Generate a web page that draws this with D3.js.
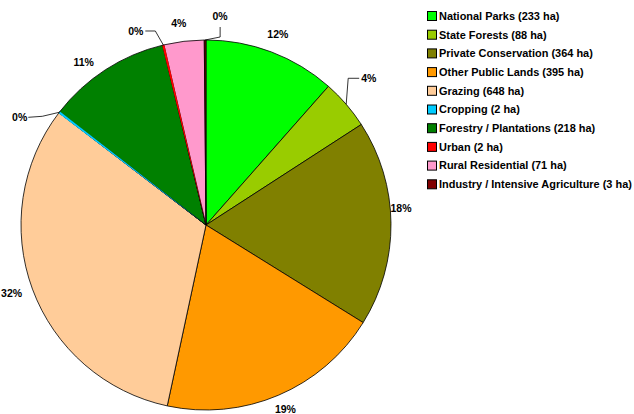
<!DOCTYPE html>
<html>
<head>
<meta charset="utf-8">
<script src="https://cdn.jsdelivr.net/npm/d3@7"></script>
<style>
  html, body { margin: 0; padding: 0; background: #fff; }
  svg { display: block; font-family: "Liberation Sans", Arial, sans-serif; font-weight: bold; }
</style>
</head>
<body>
<svg id="chart" width="634" height="414"></svg>
<script>
// Land use by tenure, hectares
const categories = [
  "National Parks", "State Forests", "Private Conservation", "Other Public Lands",
  "Grazing", "Cropping", "Forestry / Plantations", "Urban",
  "Rural Residential", "Industry / Intensive Agriculture"
];
const hectares = [233, 88, 364, 395, 648, 2, 218, 2, 71, 3];
const percentLabels = ["12%", "4%", "18%", "19%", "32%", "0%", "11%", "0%", "4%", "0%"];
const colours = [
  "#00ff00", "#99cc00", "#808000", "#ff9900", "#ffcc99",
  "#00ccff", "#008000", "#ff0000", "#ff99cc", "#800000"
];

const svg = d3.select("#chart");
const cx = 206, cy = 225, radius = 185;

const pie = d3.pie().sort(null).value(d => d.value);
const data = categories.map((c, i) => ({ name: c, value: hectares[i], label: percentLabels[i], colour: colours[i], i }));
const arcs = pie(data);
const arcGen = d3.arc().innerRadius(0).outerRadius(radius);

const g = svg.append("g").attr("transform", `translate(${cx},${cy})`);

g.selectAll("path.slice")
  .data(arcs)
  .enter().append("path")
  .attr("class", "slice")
  .attr("d", arcGen)
  .attr("fill", d => d.data.colour)
  .attr("stroke", "#000")
  .attr("stroke-width", 0.8)
  .attr("stroke-linejoin", "round");

// Hair-thin slices are repainted on top so their colour isn't lost under the outlines
const thin = arcs.filter(a => a.endAngle - a.startAngle < 0.008 && a.data.i !== 9);
const thinArc = d3.arc().innerRadius(0).outerRadius(radius - 0.4)
  .startAngle(d => (d.startAngle + d.endAngle) / 2 - 0.006)
  .endAngle(d => (d.startAngle + d.endAngle) / 2 + 0.006);
g.selectAll("path.thin")
  .data(thin)
  .enter().append("path")
  .attr("class", "thin")
  .attr("d", thinArc)
  .attr("fill", d => d.data.colour);

// Percentage labels: placed just outside the rim at each slice's mid angle,
// with small nudges; tiny slices get an elbowed leader line.
const labelRadius = radius + 18;
const nudges = {
  0: [0, -1], 2: [-8, -15], 3: [0, -2], 4: [-4, -2], 6: [-12, 8], 8: [-3, 0]
};
const leaders = {
  // [elbow offset, end offset, text offset, text-anchor] relative to rim point
  1: [[2, -26], [13, -26], [15, -22], "start"],
  5: [[-17, 4], [-31, 5], [-32, 9], "end"],
  7: [[-8, -14], [-18, -14], [-20, -10], "end"],
  9: [[15, -3], [15, -13], [15, -20], "middle"]
};

const labelG = svg.append("g").attr("transform", `translate(${cx},${cy})`);

arcs.forEach(a => {
  const mid = (a.startAngle + a.endAngle) / 2;
  const idx = a.data.i;
  if (leaders[idx]) {
    const [elbow, end, txt, anchor] = leaders[idx];
    const px = radius * Math.sin(mid), py = -radius * Math.cos(mid);
    labelG.append("path")
      .attr("d", `M${px},${py}L${px + elbow[0]},${py + elbow[1]}L${px + end[0]},${py + end[1]}`)
      .attr("fill", "none")
      .attr("stroke", "#000")
      .attr("stroke-width", 0.8);
    labelG.append("text")
      .attr("x", px + txt[0])
      .attr("y", py + txt[1])
      .attr("text-anchor", anchor)
      .attr("font-size", 10.5)
      .attr("fill", "#000")
      .text(a.data.label);
  } else {
    const n = nudges[idx] || [0, 0];
    const lx = labelRadius * Math.sin(mid) + n[0];
    const ly = -labelRadius * Math.cos(mid) + n[1];
    labelG.append("text")
      .attr("x", lx)
      .attr("y", ly)
      .attr("dy", "0.35em")
      .attr("text-anchor", "middle")
      .attr("font-size", 10.5)
      .attr("fill", "#000")
      .text(a.data.label);
  }
});

// Legend
const legendX = 427, legendY = 11, rowH = 18.7;
const legend = svg.append("g").attr("transform", `translate(${legendX},${legendY})`);
const items = legend.selectAll("g.item")
  .data(data)
  .enter().append("g")
  .attr("class", "item")
  .attr("transform", (d, i) => `translate(0,${i * rowH})`);

items.append("rect")
  .attr("x", 0.5).attr("y", 0.5)
  .attr("width", 9).attr("height", 9)
  .attr("fill", d => d.colour)
  .attr("stroke", "#000")
  .attr("stroke-width", 1);

const legendText = items.append("text")
  .attr("x", 12)
  .attr("y", 5)
  .attr("dy", "0.35em")
  .attr("font-size", 11.3)
  .attr("fill", "#000")
  .text(d => `${d.name} (${d.value} ha)`);

// Keep the longest entry within the space right of the pie
const maxW = d3.max(legendText.nodes(), n => n.getComputedTextLength());
const availW = 634 - legendX - 12 - 2;
if (maxW > availW) legendText.attr("font-size", 11.3 * availW / maxW);
</script>
</body>
</html>
